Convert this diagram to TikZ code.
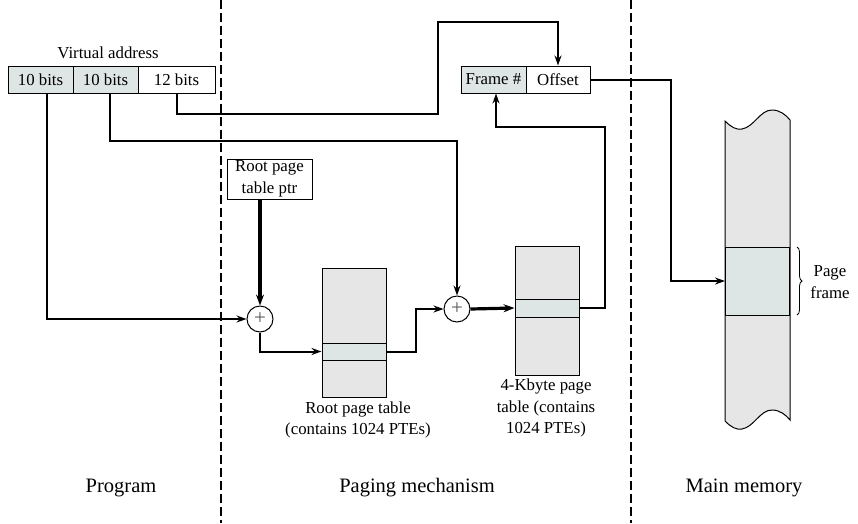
\documentclass[tikz,border=0pt]{standalone}
\usepackage{fontspec}
\setmainfont{Liberation Serif}
\usetikzlibrary{arrows.meta,decorations.pathreplacing}
\definecolor{shade}{RGB}{222,229,229}
\definecolor{tgray}{RGB}{230,230,230}
\tikzset{
  lbl/.style={font=\fontsize{16.8}{21.5}\selectfont, align=center, inner sep=0pt},
  big/.style={font=\fontsize{20.5}{24}\selectfont, inner sep=0pt},
  cell/.style={draw, line width=1pt, minimum height=27pt, inner sep=0pt, font=\fontsize{16.8}{21}\selectfont},
  tbl/.style={draw, line width=1pt, fill=tgray, minimum width=64pt, inner sep=0pt},
  band/.style={draw, line width=1pt, fill=shade, minimum width=64pt, inner sep=0pt},
  opc/.style={draw, circle, line width=1pt, fill=white, minimum size=26pt, inner sep=0pt, font=\fontsize{21}{21}\selectfont\color{black!65}},
  conn/.style={line width=2pt, -{Stealth[length=10pt,width=7pt]}},
  thk/.style={line width=3.2pt, -{Stealth[length=11pt,width=8pt]}},
  divider/.style={line width=2pt, dash pattern=on 9pt off 4pt},
}
\begin{document}
\begin{tikzpicture}[x=1pt,y=-1pt]
\useasboundingbox (0,0) rectangle (858,523);
% dividers
\draw[divider] (221,0) -- (221,523);
\draw[divider] (631,0) -- (631,523);
% virtual address
\node[lbl] (va) at (108,53) {Virtual address};
\node[cell, fill=shade, minimum width=65pt] (c1) at (40.5,79.5) {10 bits};
\node[cell, fill=shade, minimum width=65pt] (c2) at (105.5,79.5) {10 bits};
\node[cell, fill=white, minimum width=77pt] (c3) at (176.5,79.5) {12 bits};
% physical address
\node[cell, fill=shade, minimum width=65pt] (fr) at (493.5,79.5) {Frame \#};
\node[cell, fill=white, minimum width=64pt] (off) at (558,79.5) {Offset};
% root pointer
\node[draw, line width=1pt, minimum width=85pt, minimum height=40pt, lbl, fill=white] (root) at (269.5,179) {Root page\\table ptr};
% adders
\node[opc] (op1) at (260,319) {+};
\node[opc] (op2) at (457,309) {+};
% tables
\node[tbl, minimum height=129pt] (t1) at (354,332.5) {};
\node[band, minimum height=17pt] (b1) at (354,351.5) {};
\node[tbl, minimum height=129pt] (t2) at (547,310.5) {};
\node[band, minimum height=18pt] (b2) at (547,308) {};
\node[lbl] (t1l) at (358,420) {Root page table\\(contains 1024 PTEs)};
\node[lbl] (t2l) at (546,408) {4-Kbyte page\\table (contains\\1024 PTEs)};
% main memory
\draw[line width=1pt, fill=tgray]
  (725,121) .. controls (731,127) and (736,130) .. (742,129)
  .. controls (754,127) and (760,110) .. (772,110)
  .. controls (780,110) and (786,115) .. (790,120)
  -- (790,420)
  .. controls (786,415) and (780,410) .. (772,410)
  .. controls (760,410) and (754,427) .. (742,429)
  .. controls (736,430) and (731,427) .. (725,421) -- cycle;
\node[band, minimum height=68pt] (pf) at (757.5,281) {};
\draw[line width=0.8pt, decorate, decoration={brace, amplitude=5pt}] (797,247) -- (797,315);
\node[lbl] (pfl) at (830,282) {Page\\frame};
% bottom labels
\node[big] (lp) at (121,488) {Program};
\node[big] (lm) at (417,488) {Paging mechanism};
\node[big] (lmm) at (744,488) {Main memory};
% connectors
\draw[conn] ([xshift=6.5pt]c1.south) |- (op1.west);
\draw[conn] ([xshift=4.5pt]c2.south) -- ++(0,47) -| (op2.north);
\draw[conn] (c3.south) -- ++(0,20) -| (438,22) -| (off.north);
\draw[thk] ([xshift=-9.5pt]root.south) -- (op1.north);
\draw[conn] (op1.south) |- (b1.west);
\draw[conn] (b1.east) -- ++(29,0) |- (op2.west);
\draw[thk] (op2.east) -- (b2.west);
\draw[conn] (b2.east) -- ++(25,0) -- ++(0,-181) -| ([xshift=2.5pt]fr.south);
\draw[conn] (off.east) -- ++(80,0) |- (pf.west);
\end{tikzpicture}
\end{document}
